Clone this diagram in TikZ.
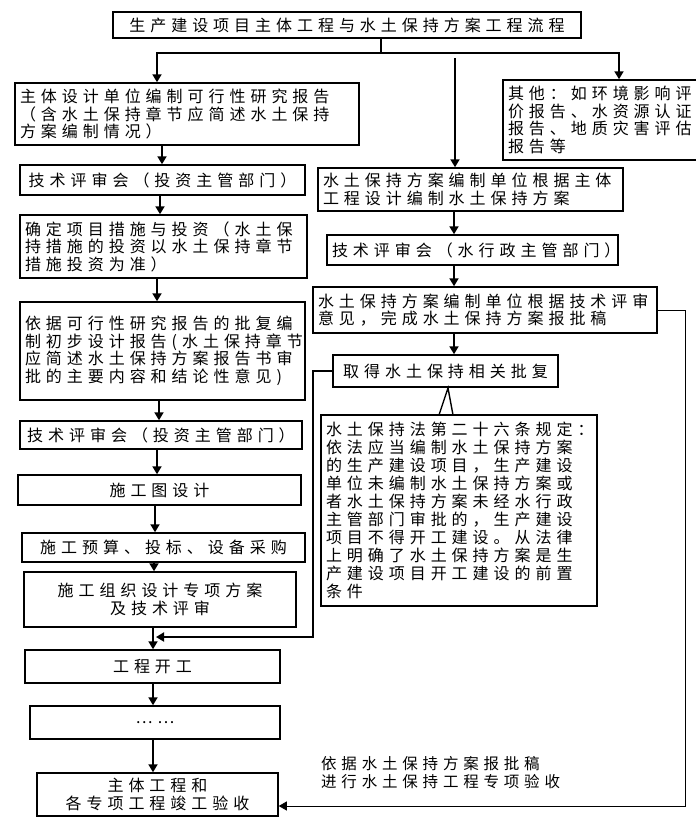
\documentclass[tikz,border=0pt]{standalone}
\usepackage{fontspec}
\usetikzlibrary{arrows.meta}
\newfontfamily\cjk[LetterSpace=31]{Noto Sans CJK SC}
\tikzset{
  bx/.style={draw, line width=1.5pt, inner sep=0pt, font=\cjk\fontsize{16}{17.5}\selectfont},
  arr/.style={line width=1.8pt, -{Triangle[length=8pt,width=9pt]}},
  ln/.style={line width=1.8pt},
  thinarr/.style={line width=0.8pt, -{Triangle[length=8pt,width=9pt]}},
  lbl/.style={inner sep=0pt, align=left, font=\cjk\fontsize{15.5}{18}\selectfont},
}
\newcommand\mybox[7]{%
  \pgfmathsetmacro\bw{#4-#2}\pgfmathsetmacro\bh{#5-#3}\pgfmathsetmacro\tw{#4-#2-10}%
  \pgfmathsetmacro\cx{(#2+#4)/2}\pgfmathsetmacro\cy{(#3+#5)/2}%
  \node[bx,minimum width=\bw pt,minimum height=\bh pt,text width=\tw pt,align=#6] (#1) at (\cx,\cy) {#7};}
\begin{document}
\begin{tikzpicture}[x=1pt,y=-1pt]
\clip (0,0) rectangle (696,822);
\fill[white] (0,0) rectangle (696,822);
% boxes
\mybox{title}{113}{12}{581}{38}{center}{生产建设项目主体工程与水土保持方案工程流程}
\mybox{b1}{15}{83}{359}{145}{left}{主体设计单位编制可行性研究报告\\（含水土保持章节应简述水土保持\\方案编制情况）}
\mybox{other}{503}{80}{720}{160}{left}{其他：如环境影响评\\价报告、水资源认证\\报告、地质灾害评估\\报告等}
\mybox{tech1}{20}{165}{305}{195}{center}{技术评审会（投资主管部门）}
\mybox{b2}{20}{215}{307}{278}{left}{确定项目措施与投资（水土保\\持措施的投资以水土保持章节\\措施投资为准）}
\mybox{b3}{20}{302}{305}{400}{left}{依据可行性研究报告的批复编\\制初步设计报告(水土保持章节\\应简述水土保持方案报告书审\\批的主要内容和结论性意见)}
\mybox{tech2}{20}{421}{302}{449}{center}{技术评审会（投资主管部门）}
\mybox{drw}{18}{475}{301}{505}{center}{施工图设计}
\mybox{budget}{22}{533}{305}{562}{center}{施工预算、投标、设备采购}
\mybox{org}{24}{572}{296}{627}{center}{施工组织设计专项方案\\及技术评审}
\mybox{start}{25}{650}{280}{683}{center}{工程开工}
\mybox{dots}{30}{706}{280}{739}{center}{……}
\mybox{final}{37}{773}{278}{816}{center}{主体工程和\\各专项工程竣工验收}
\mybox{r1}{318}{168}{623}{211}{left}{水土保持方案编制单位根据主体\\工程设计编制水土保持方案}
\mybox{r2}{327}{235}{618}{265}{center}{技术评审会（水行政主管部门）}
\mybox{r3}{313}{287}{657}{333}{left}{水土保持方案编制单位根据技术评审\\意见，完成水土保持方案报批稿}
\mybox{r4}{333}{355}{558}{387}{center}{取得水土保持相关批复}
\mybox{law}{321}{415}{597}{606}{left}{\fontsize{16}{18}\selectfont 水土保持法第二十六条规定：\\依法应当编制水土保持方案\\的生产建设项目，生产建设\\单位未编制水土保持方案或\\者水土保持方案未经水行政\\主管部门审批的，生产建设\\项目不得开工建设。从法律\\上明确了水土保持方案是生\\产建设项目开工建设的前置\\条件}
\node[lbl, anchor=north west] (lab) at (321,756) {依据水土保持方案报批稿\\进行水土保持工程专项验收};
% coordinates
\coordinate (j1) at (381,53);
\coordinate (jl) at (157,53);
\coordinate (jr) at (619,53);
\coordinate (jm) at (455,58);
\coordinate (xa) at (162,0);
\coordinate (xb) at (160,0);
\coordinate (xc) at (157,0);
\coordinate (xd) at (159,0);
\coordinate (xe) at (157,0);
\coordinate (xf) at (155,0);
\coordinate (xg) at (154,0);
\coordinate (xh) at (153,0);
\coordinate (xr) at (454,0);
\coordinate (fa) at (685,0);
\coordinate (fb) at (685,806);
\coordinate (ga) at (313,0);
\coordinate (gb) at (313,637);
\coordinate (gc) at (156,637);
\coordinate (ca) at (439,415);
\coordinate (cb) at (448,388);
\coordinate (cc) at (453,415);
% top fan-out
\draw[ln] (title.south -| j1) -- (j1);
\draw[ln] ([xshift=-0.9pt]jl) -- ([xshift=0.9pt]jr);
\draw[arr] (jl) -- (b1.north -| jl);
\draw[arr] (jr) -- (other.north -| jr);
\draw[arr] (jm) -- (r1.north -| jm);
% left chain
\draw[arr] (b1.south -| xa) -- (tech1.north -| xa);
\draw[arr] (tech1.south -| xb) -- (b2.north -| xb);
\draw[arr] (b2.south -| xc) -- (b3.north -| xc);
\draw[arr] (b3.south -| xd) -- (tech2.north -| xd);
\draw[arr] (tech2.south -| xe) -- (drw.north -| xe);
\draw[arr] (drw.south -| xf) -- (budget.north -| xf);
\draw[arr] (budget.south -| xg) -- (org.north -| xg);
\draw[arr] (org.south -| xh) -- (start.north -| xh);
\draw[arr] (start.south -| xh) -- (dots.north -| xh);
\draw[arr] (dots.south -| xh) -- (final.north -| xh);
% right chain
\draw[arr] (r1.south -| xr) -- (r2.north -| xr);
\draw[arr] (r2.south -| xr) -- (r3.north -| xr);
\draw[arr] (r3.south -| xr) -- (r4.north -| xr);
% feedback lines
\draw[thinarr] (r3.east) -- (r3.east -| fa) -- (fb) -- (final.east |- fb);
\draw[arr] (r4.west) -- (r4.west -| ga) -- (gb) -- (gc);
% callout wedge
\draw[line width=1.4pt, line join=miter] (ca) -- (cb) -- (cc);
\end{tikzpicture}
\end{document}
